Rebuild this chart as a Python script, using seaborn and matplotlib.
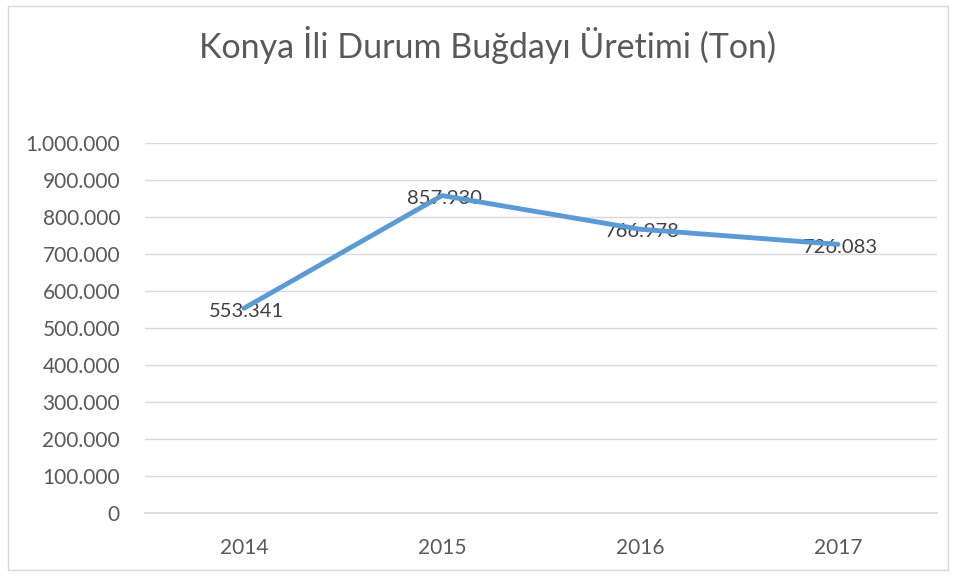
import matplotlib
matplotlib.use("Agg")
import matplotlib.pyplot as plt
import seaborn as sns
import pandas as pd
from matplotlib.patches import Rectangle

years = ["2014", "2015", "2016", "2017"]
values = [553341, 857930, 766978, 726083]
value_labels = ["553.341", "857.930", "766.978", "726.083"]
yticks = list(range(0, 1000001, 100000))
ytick_labels = ["0", "100.000", "200.000", "300.000", "400.000", "500.000",
                "600.000", "700.000", "800.000", "900.000", "1.000.000"]

sns.set_theme(style="white")
plt.rcParams['font.family'] = ['Lato', 'DejaVu Sans']

df = pd.DataFrame({"year": years, "value": values})

fig = plt.figure(figsize=(9.58, 5.76), dpi=100)
ax = fig.add_axes([145/958, 1 - 513/576, 792/958, (513-143)/576])

x = list(range(len(years)))
sns.lineplot(x=x, y=df["value"], ax=ax, color="#5B9BD5", linewidth=3.5,
             solid_capstyle="round", zorder=3)

ax.set_xlim(-0.5, 3.5)
ax.set_ylim(0, 1000000)
ax.set_yticks(yticks)
ax.set_yticklabels(ytick_labels)
ax.set_xticks(x)
ax.set_xticklabels(years)
ax.grid(axis="y", color="#D9D9D9", linewidth=1)
ax.set_axisbelow(True)
for s in ["left", "right", "top"]:
    ax.spines[s].set_visible(False)
ax.spines["bottom"].set_color("#D9D9D9")
ax.tick_params(axis="both", length=0, labelsize=15, labelcolor="#595959")
ax.tick_params(axis="y", pad=18)
ax.tick_params(axis="x", pad=18)
ax.set_xlabel("")
ax.set_ylabel("")

for xi, v, lab in zip(x, values, value_labels):
    ax.annotate(lab, (xi, v), xytext=(2, -2), textcoords="offset points",
                ha="center", va="center", fontsize=14.5, color="#404040", zorder=2)

fig.text(487/958, 1 - 45/576, "Konya İli Durum Buğdayı Üretimi (Ton)", ha="center", va="center",
         fontsize=24.5, color="#595959")

fig.patches.append(Rectangle((8/958, 6/576), 940/958, 564/576, transform=fig.transFigure,
                             fill=False, edgecolor="#D9D9D9", linewidth=1))

fig.savefig("out.png", dpi=100, facecolor="white")
